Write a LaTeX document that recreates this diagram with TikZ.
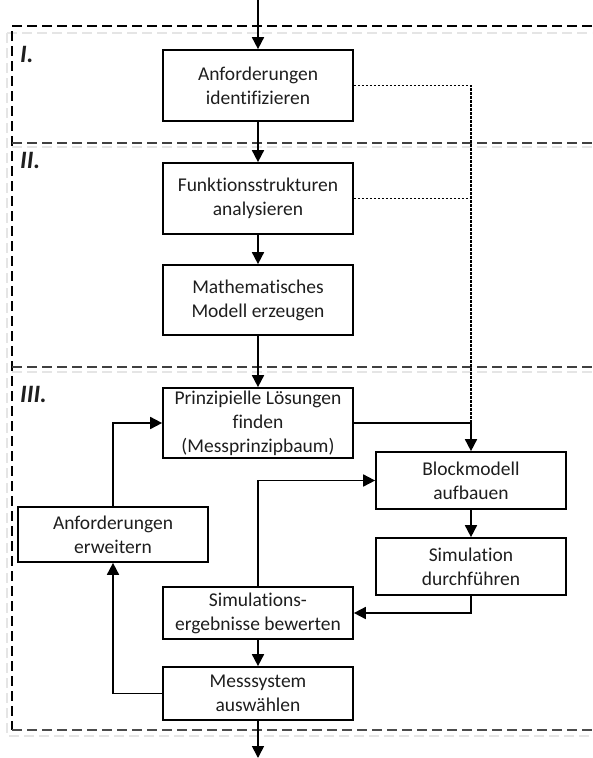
\documentclass[tikz,border=0pt]{standalone}
\usepackage{fontspec}
\setmainfont{Carlito}[RawFeature={-liga}]
\usetikzlibrary{arrows.meta}
\definecolor{ink}{HTML}{1E1E1E}
\begin{document}
\begin{tikzpicture}[x=1pt,y=-1pt,
  box/.style={draw,line width=1.7pt,minimum width=190pt,align=center,inner sep=0pt,
    text=ink,font=\fontsize{19.5}{24}\selectfont},
  flow/.style={line width=1.7pt,-{Triangle[length=12pt,width=12pt]}},
  hint/.style={line width=1.6pt,dash pattern=on 2.4pt off 1.6pt},
  frame/.style={line width=1.5pt,dash pattern=on 10pt off 5pt},
  frameshadow/.style={line width=2.5pt,gray!20,dash pattern=on 10pt off 5pt},
  phase/.style={anchor=north west,inner sep=0pt,text=ink,
    font=\fontsize{25}{25}\selectfont\bfseries\itshape}]
\useasboundingbox (0,0) rectangle (592,758);

% phase frames (soft shadow first, then the dashed outlines)
\draw[frameshadow] (7,33) -- (592,33);
\draw[frameshadow] (7,33) -- (7,736) -- (592,736);
\draw[frameshadow] (12,147) -- (592,147);
\draw[frameshadow] (12,372) -- (592,372);
\draw[frame] (592,26) -- (12,26) -- (12,730);
\draw[frame,black!70] (12,730) -- (592,730);
\draw[frame,black!75] (12,143) -- (592,143);
\draw[frame,black!75] (12,367) -- (592,367);

\node[phase] (p1) at (20,46) {I.};
\node[phase] (p2) at (20,152) {II.};
\node[phase] (p3) at (20,386) {III.};

% process steps
\node[box,minimum height=71pt] (req)   at (258,85.5)  {Anforderungen\\identifizieren};
\node[box,minimum height=71pt] (func)  at (258,198.5) {Funktionsstrukturen\\analysieren};
\node[box,minimum height=70pt] (math)  at (258,300)   {Mathematisches\\Modell erzeugen};
\node[box,minimum height=70pt] (princ) at (258,423)   {Prinzipielle Lösungen\\finden\\(Messprinzipbaum)};
\node[box,minimum height=57pt] (block) at (471,480.5) {Blockmodell\\aufbauen};
\node[box,minimum height=57pt] (sim)   at (471,566.5) {Simulation\\durchführen};
\node[box,minimum height=52pt] (eval)  at (258,613)   {Simulations-\\ergebnisse bewerten};
\node[box,minimum height=53pt] (sel)   at (258,693.5) {Messsystem\\auswählen};
\node[box,minimum height=55pt] (ext)   at (113,534.5) {Anforderungen\\erweitern};

\coordinate (in)  at (258,0);
\coordinate (out) at (258,758);

% main flow
\draw[flow] (in) -- (req);
\draw[flow] (req) -- (func);
\draw[flow] (func) -- (math);
\draw[flow] (math) -- (princ);
\draw[flow] (princ.east) -| (block.north);
\draw[flow] (block) -- (sim);
\draw[flow] (sim.south) |- (eval.east);
\draw[flow] (eval.north) |- (block.west);
\draw[flow] (eval) -- (sel);
\draw[flow] (sel) -- (out);

% iteration loop
\draw[flow] (sel.west) -| (ext.south);
\draw[flow] (ext.north) |- (princ.west);

% dotted dependencies
\draw[hint] (req.east) -| (block.north |- princ.east);
\draw[hint] (func.east) -- (block.north |- func.east);
\end{tikzpicture}
\end{document}
